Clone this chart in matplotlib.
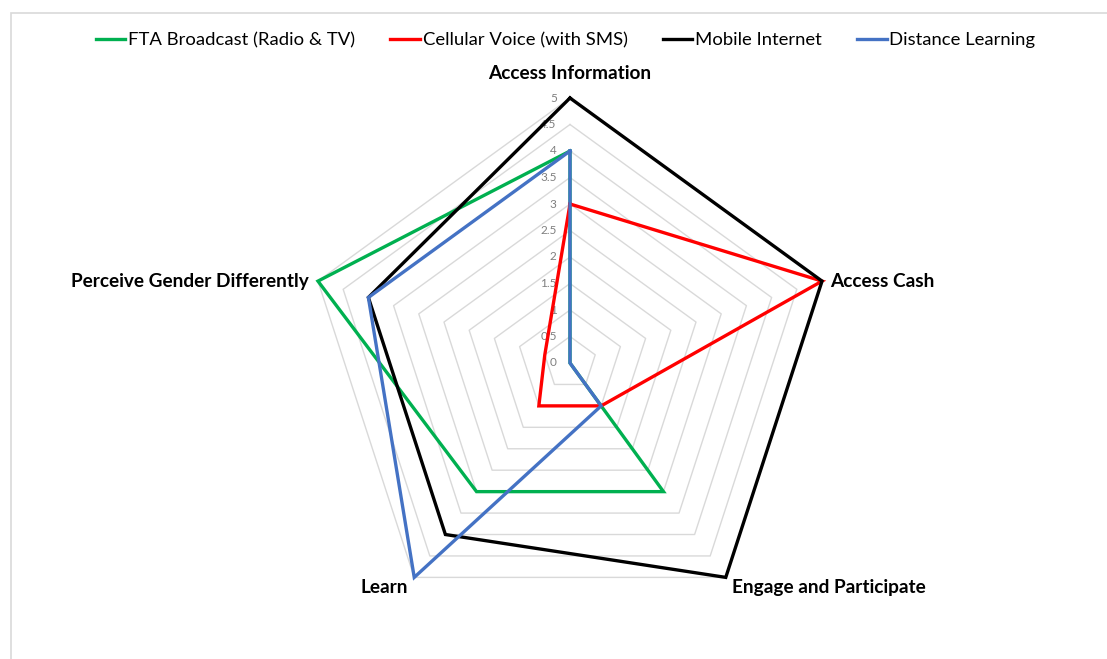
import numpy as np
import matplotlib
matplotlib.use("Agg")
import matplotlib.pyplot as plt
from matplotlib.patches import Rectangle

plt.rcParams['font.family'] = ['Lato', 'DejaVu Sans']

# Radar chart data
categories = ["Access Information", "Access Cash", "Engage and Participate",
              "Learn", "Perceive Gender Differently"]
series_names = ["FTA Broadcast (Radio & TV)", "Cellular Voice (with SMS)",
                "Mobile Internet", "Distance Learning"]
fta_broadcast = [4, 0, 3, 3, 5]
cellular_voice = [3, 5, 1, 1, 0.5]
mobile_internet = [5, 5, 5, 4, 4]
distance_learning = [4, 0, 1, 5, 4]
tick_values = [0, 0.5, 1, 1.5, 2, 2.5, 3, 3.5, 4, 4.5, 5]
tick_labels = ["0", "0.5", "1", "1.5", "2", "2.5", "3", "3.5", "4", "4.5", "5"]

colors = ["#00B050", "#FF0000", "#000000", "#4472C4"]
series = [fta_broadcast, cellular_voice, mobile_internet, distance_learning]

W, H, DPI = 1107, 659, 100
fig = plt.figure(figsize=(W / DPI, H / DPI), dpi=DPI)
ax = fig.add_axes([0, 0, 1, 1])

# pixel geometry -> data units (1 unit of value = px_per_unit pixels)
cx_px, cy_px = 570, 363
px_per_unit = 53.0
ax.set_xlim(-cx_px / px_per_unit, (W - cx_px) / px_per_unit)
ax.set_ylim(-(H - cy_px) / px_per_unit, cy_px / px_per_unit)
ax.axis("off")

n = len(categories)
angles = np.pi / 2 - 2 * np.pi * np.arange(n) / n


def to_xy(vals):
    v = np.asarray(vals, dtype=float)
    x = v * np.cos(angles)
    y = v * np.sin(angles)
    return np.append(x, x[0]), np.append(y, y[0])


# pentagonal gridlines
for t in tick_values[1:]:
    gx, gy = to_xy([t] * n)
    ax.plot(gx, gy, color="#d9d9d9", lw=1.0, zorder=1)

# value tick labels along the top spoke
for t, lab in zip(tick_values, tick_labels):
    ax.text(-0.25, t, lab, ha="right", va="center", fontsize=8.5,
            color="#7f7f7f", zorder=2)

# series lines
for vals, c, name in zip(series, colors, series_names):
    sx, sy = to_xy(vals)
    ax.plot(sx, sy, color=c, lw=2.4, label=name, zorder=3,
            solid_joinstyle="miter")

# category labels
r_lab = 5.0
lab_specs = [
    (0, 0.0, 0.47, "center", "center"),
    (1, 0.16, 0.0, "left", "center"),
    (2, 0.12, -0.2, "left", "center"),
    (3, -0.12, -0.2, "right", "center"),
    (4, -0.18, 0.0, "right", "center"),
]
for i, dx, dy, ha, va in lab_specs:
    x = r_lab * np.cos(angles[i]) + dx
    y = r_lab * np.sin(angles[i]) + dy
    ax.text(x, y, categories[i], ha=ha, va=va, fontsize=13.7,
            fontweight="bold", color="#000000")

leg = ax.legend(loc="center", bbox_to_anchor=(0.511, 1 - 40 / H), ncol=4,
                frameon=False, fontsize=13.3, handlelength=1.6,
                handletextpad=0.15, columnspacing=1.9)
for h in leg.get_lines():
    h.set_linewidth(2.4)

# chart area border
fig.patches.append(Rectangle((11 / W, -0.1), 1.2, (H - 13) / H + 0.1,
                             transform=fig.transFigure, fill=False,
                             edgecolor="#d9d9d9", lw=1.2))

fig.savefig("out.png", dpi=DPI)
